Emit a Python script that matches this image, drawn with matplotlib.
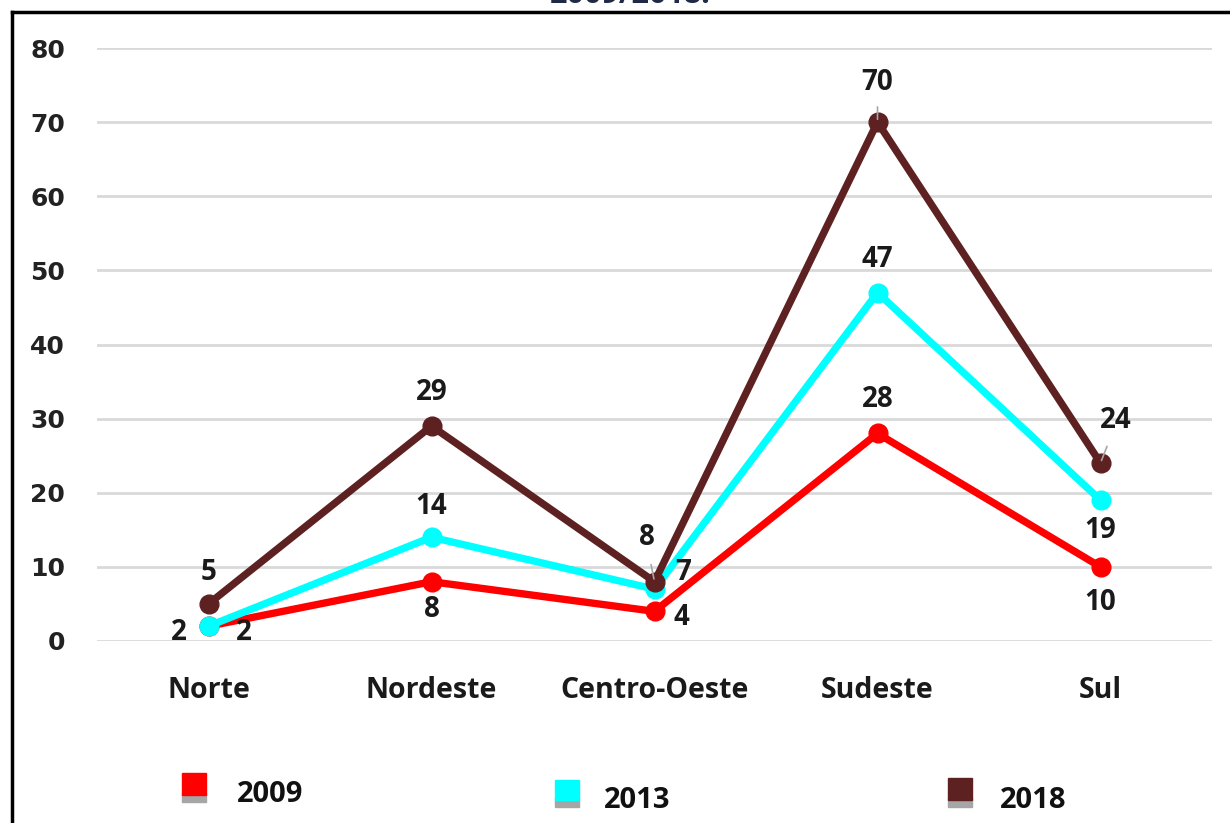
import matplotlib.pyplot as plt
from matplotlib.lines import Line2D
from matplotlib.patches import Rectangle

regioes = ['Norte', 'Nordeste', 'Centro-Oeste', 'Sudeste', 'Sul']
anos = ['2009', '2013', '2018']
v2009 = [2, 8, 4, 28, 10]
v2013 = [2, 14, 7, 47, 19]
v2018 = [5, 29, 8, 70, 24]
cores = ['#FF0000', '#00FFFF', '#5E2121']
yticks = [0, 10, 20, 30, 40, 50, 60, 70, 80]

# posicao dos rotulos (dx, dy em pixels) para cada serie
desloc2009 = [(35, -6), (0, -28), (27, -6), (0, 34), (0, -36)]
desloc2013 = [(-30, -6), (0, 31), (29, 17), (0, 33), (0, -30)]
desloc2018 = [(0, 31), (0, 34), (-8, 44), (0, 40), (15, 43)]
guia2018 = [False, False, True, True, True]

W, H = 1230, 823
fig = plt.figure(figsize=(W / 100, H / 100), dpi=100)
ax = fig.add_axes([97 / W, 1 - 641 / H, (1212 - 97) / W, (641 - 48) / H])

px = 0.72  # pixels -> pontos
x = list(range(len(regioes)))
series = [v2009, v2013, v2018]
desl = [desloc2009, desloc2013, desloc2018]
for i, vals in enumerate(series):
    ax.plot(x, vals, color=cores[i], lw=5.3, marker='o', ms=13.5,
            solid_joinstyle='round', zorder=3 + i, clip_on=False)
    for j, v in enumerate(vals):
        dx, dy = desl[i][j]
        ax.annotate(str(v), (j, v), xytext=(dx * px, dy * px),
                    textcoords='offset points', ha='center', va='center',
                    fontsize=20, fontweight='bold', family='Open Sans',
                    color='#1a1a1a', zorder=10)

# linhas guia dos rotulos de 2018
for j, v in enumerate(v2018):
    if guia2018[j]:
        dx, dy = desloc2018[j]
        ax.annotate('', (j, v), xytext=(dx * px * 0.5, dy * px * 0.45),
                    textcoords='offset points',
                    arrowprops=dict(arrowstyle='-', color='#A6A6A6', lw=1.2),
                    zorder=9)

ax.set_xlim(-0.5, 4.5)
ax.set_ylim(0, 80)
ax.set_yticks(yticks)
ax.set_yticklabels([str(t) for t in yticks], fontsize=18, fontweight='bold',
                   family='DejaVu Sans', color='#222222')
ax.set_xticks(x)
ax.set_xticklabels(regioes, fontsize=20.5, fontweight='bold', family='Open Sans',
                   color='#1a1a1a')
ax.tick_params(axis='y', length=0, pad=23)
ax.tick_params(axis='x', length=0, pad=25)
ax.grid(axis='y', color='#D9D9D9', lw=2)
ax.set_axisbelow(True)
for s in ax.spines.values():
    s.set_visible(False)

# legenda (quadrado com sombra cinza embaixo)
leg_quad = [(182, 773, 795), (555, 780, 800), (948, 778, 800)]
leg_txt = [(237, 795), (604, 800), (1000, 800)]
for i, ano in enumerate(anos):
    x0, y0, y1 = leg_quad[i]
    fig.patches.append(Rectangle((x0 / W, 1 - (y1 + 7) / H), 24 / W, 9 / H,
                                 color='#A6A6A6', transform=fig.transFigure))
    fig.patches.append(Rectangle((x0 / W, 1 - y1 / H), 24 / W, (y1 - y0) / H,
                                 color=cores[i], transform=fig.transFigure))
    tx, ty = leg_txt[i]
    fig.text(tx / W, 1 - ty / H, ano, ha='left', va='center', fontsize=21,
             fontweight='bold', family='Open Sans', color='#111111')

# titulo cortado no topo
fig.text(630 / W, 1 - 3 / H, '2009/2018.', ha='center', va='baseline',
         fontsize=22, fontweight='bold', family='Open Sans', color='#1F2A44')

# moldura
fig.add_artist(Line2D([12 / W, 1], [1 - 12 / H, 1 - 12 / H],
                      color='black', lw=2.5, transform=fig.transFigure))
fig.add_artist(Line2D([12 / W, 12 / W], [0, 1 - 12 / H],
                      color='black', lw=2.5, transform=fig.transFigure))

fig.savefig('out.png', dpi=100)
